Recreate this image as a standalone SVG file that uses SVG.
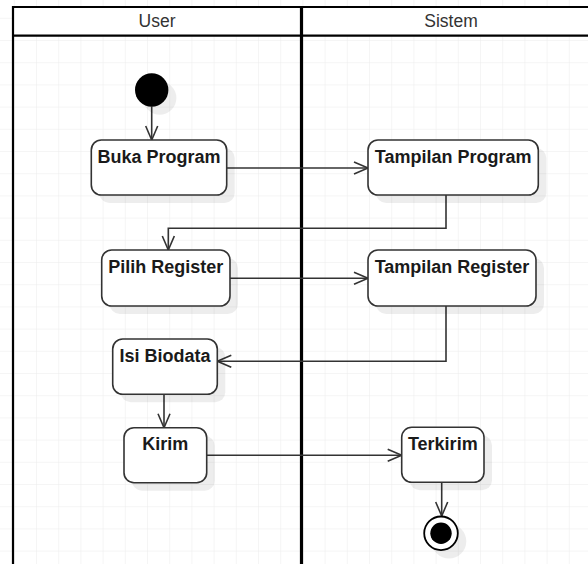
<svg xmlns="http://www.w3.org/2000/svg" width="588" height="564" viewBox="0 0 588 564">
  <defs>
    <pattern id="grid" x="36" y="40" width="22.2" height="22.2" patternUnits="userSpaceOnUse">
      <path d="M0 0 V22.2 M0 0 H22.2" fill="none" stroke="#ebebeb" stroke-width="1"/>
    </pattern>
    <marker id="open" markerUnits="userSpaceOnUse" markerWidth="20" markerHeight="16" refX="15" refY="7" orient="auto" viewBox="0 0 20 16">
      <path d="M1 1 L15 7 L1 13" fill="none" stroke="#333" stroke-width="1.6"/>
    </marker>
  </defs>
  <style>
    .act { fill: #fff; stroke: #333; stroke-width: 1.6; }
    .shadow { fill: #000; fill-opacity: 0.07; }
    .label { font-family: "Liberation Sans", Arial, sans-serif; font-size: 18px; font-weight: bold; fill: #1a1a1a; text-anchor: middle; }
    .lane-title { font-family: "Liberation Sans", Arial, sans-serif; font-size: 17.5px; fill: #333; text-anchor: middle; }
    .edge { fill: none; stroke: #333; stroke-width: 1.6; marker-end: url(#open); }
  </style>

  <!-- canvas grid -->
  <rect x="0" y="0" width="588" height="564" fill="#fff"/>
  <rect x="0" y="0" width="588" height="564" fill="url(#grid)"/>

  <!-- swimlane pool -->
  <g id="pool">
    <rect x="13" y="7" width="600" height="29" fill="#fff"/>
    <text class="lane-title" x="157" y="26.5">User</text>
    <text class="lane-title" x="451" y="26.5">Sistem</text>
    <path d="M13 570 V7 H600" fill="none" stroke="#000" stroke-width="2.2"/>
    <path d="M13 35.7 H600" fill="none" stroke="#000" stroke-width="2.2"/>
    <path d="M301.5 7 V570" fill="none" stroke="#000" stroke-width="3.2"/>
  </g>

  <!-- connectors -->
  <g id="connectors">
    <path class="edge" d="M151.7 106.5 V140"/>
    <path class="edge" d="M226.7 168 H368"/>
    <path class="edge" d="M446 195 V228.3 H168.3 V250"/>
    <path class="edge" d="M230 278.3 H368"/>
    <path class="edge" d="M446 306 V361.3 H217.3"/>
    <path class="edge" d="M164 394.3 V427.7"/>
    <path class="edge" d="M206.7 455.3 H401.7"/>
    <path class="edge" d="M441.7 482.3 V516"/>
  </g>

  <!-- start -->
  <g id="start">
    <circle class="shadow" cx="159.7" cy="98" r="16.7"/>
    <circle cx="151.7" cy="90" r="16.7" fill="#000"/>
  </g>

  <g id="buka-program">
    <rect class="shadow" x="99.3" y="148" width="135.4" height="55" rx="10"/>
    <rect class="act" x="91.3" y="140" width="135.4" height="55" rx="10"/>
    <text class="label" x="159" y="163.3">Buka Program</text>
  </g>

  <g id="tampilan-program">
    <rect class="shadow" x="376" y="148" width="170.3" height="55" rx="10"/>
    <rect class="act" x="368" y="140" width="170.3" height="55" rx="10"/>
    <text class="label" x="453.2" y="163.3">Tampilan Program</text>
  </g>

  <g id="pilih-register">
    <rect class="shadow" x="109.7" y="258" width="128.3" height="56" rx="10"/>
    <rect class="act" x="101.7" y="250" width="128.3" height="56" rx="10"/>
    <text class="label" x="165.8" y="273.3">Pilih Register</text>
  </g>

  <g id="tampilan-register">
    <rect class="shadow" x="376" y="258" width="168" height="56" rx="10"/>
    <rect class="act" x="368" y="250" width="168" height="56" rx="10"/>
    <text class="label" x="452" y="273.3">Tampilan Register</text>
  </g>

  <g id="isi-biodata">
    <rect class="shadow" x="120.7" y="347" width="104.6" height="55.3" rx="10"/>
    <rect class="act" x="112.7" y="339" width="104.6" height="55.3" rx="10"/>
    <text class="label" x="165" y="361.7">Isi Biodata</text>
  </g>

  <g id="kirim">
    <rect class="shadow" x="132" y="435.7" width="82.7" height="55" rx="10"/>
    <rect class="act" x="124" y="427.7" width="82.7" height="55" rx="10"/>
    <text class="label" x="165.3" y="450.3">Kirim</text>
  </g>

  <g id="terkirim">
    <rect class="shadow" x="409.7" y="435.3" width="82.3" height="55" rx="10"/>
    <rect class="act" x="401.7" y="427.3" width="82.3" height="55" rx="10"/>
    <text class="label" x="442.8" y="450.3">Terkirim</text>
  </g>

  <!-- end -->
  <g id="end">
    <circle class="shadow" cx="449" cy="541.3" r="17.3"/>
    <circle cx="441" cy="533.3" r="16.8" fill="#fff" stroke="#000" stroke-width="1.8"/>
    <circle cx="441" cy="533.3" r="10.7" fill="#000"/>
  </g>
</svg>
